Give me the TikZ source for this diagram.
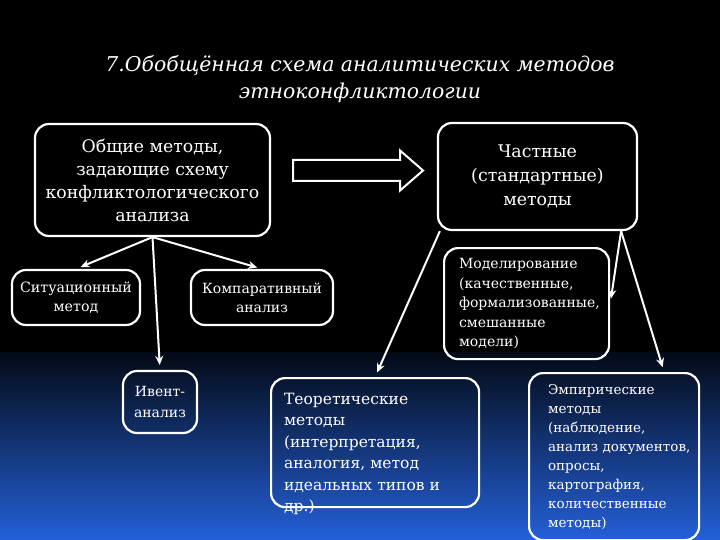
\documentclass[tikz,border=0pt]{standalone}
\usepackage{fontspec}
\setmainfont{DejaVu Serif}
\usetikzlibrary{arrows.meta, shapes.arrows}
\definecolor{bgblue}{RGB}{36,96,216}

\begin{document}
\begin{tikzpicture}[x=1pt, y=-1pt, >=Stealth,
  box/.style={draw=white, line width=2.2pt, rounded corners=14pt, text=white, align=center, inner sep=0pt},
  leftbox/.style={box, align=left, anchor=north west},
  link/.style={->, white, line width=2pt, shorten >=5pt, arrows={-Stealth[length=9pt, width=8pt]}}]
  % background
  \fill[black] (0,0) rectangle (720,540);
  \shade[top color=black!90!bgblue, bottom color=bgblue] (0,352) rectangle (720,540);
  \path[use as bounding box] (0,0) rectangle (720,540);

  \node[text=white, align=center, font=\fontsize{20.4}{27}\selectfont\itshape] (title) at (360,79)
    {7.Обобщённая схема аналитических методов\\этноконфликтологии};

  \node[box, minimum width=235, minimum height=112, font=\fontsize{17.3}{23}\selectfont]
    (general) at (152.5,180) {Общие методы,\\задающие схему\\конфликтологического\\анализа};
  \node[box, minimum width=199, minimum height=107, font=\fontsize{17.4}{24}\selectfont]
    (particular) at (537.5,176.5) {Частные\\(стандартные)\\методы};
  \node[draw=white, line width=2pt, single arrow, single arrow head extend=9.5pt,
    single arrow tip angle=82, minimum height=130, minimum width=38, inner sep=9.5pt]
    (shift) at (352,170.5) {};

  \node[box, minimum width=128, minimum height=55, font=\fontsize{14.2}{19}\selectfont]
    (situation) at (76,297.5) {Ситуационный\\метод};
  \node[box, minimum width=142, minimum height=55, font=\fontsize{14}{19}\selectfont]
    (compare) at (262,297.5) {Компаративный\\анализ};
  \node[box, minimum width=74, minimum height=62, font=\fontsize{14}{21}\selectfont]
    (event) at (160,402) {Ивент-\\анализ};

  \node[leftbox, text width=182, inner xsep=13pt, text height=26, text depth=103, font=\fontsize{15.5}{21.5}\selectfont]
    (theory) at (270,377) {Теоретические\\методы\\(интерпретация,\\аналогия,~метод\\идеальных~типов~и\\др.)};
  \node[leftbox, text width=135, inner xsep=15pt, minimum height=111, font=\fontsize{14}{19.5}\selectfont]
    (model) at (443,247) {Моделирование\\(качественные,\\формализованные,\\смешанные\\модели)};
  \node[leftbox, text width=132, inner xsep=19pt, minimum height=167, font=\fontsize{13.5}{19}\selectfont]
    (empiric) at (528,372) {Эмпирические\\методы\\(наблюдение,\\анализ~документов,\\опросы,\\картография,\\количественные\\методы)};

  \draw[link] (general.south) -- (situation.north);
  \draw[link] (general.south) -- (compare.north);
  \draw[link] (general.south) -- (event.north);
  \draw[link] ([xshift=3pt]particular.south west) -- (theory.north);
  \draw[link] ([xshift=-17pt]particular.south east) -- (model.east);
  \draw[link] ([xshift=-17pt]particular.south east) -- ([xshift=50pt]empiric.north);
\end{tikzpicture}
\end{document}
